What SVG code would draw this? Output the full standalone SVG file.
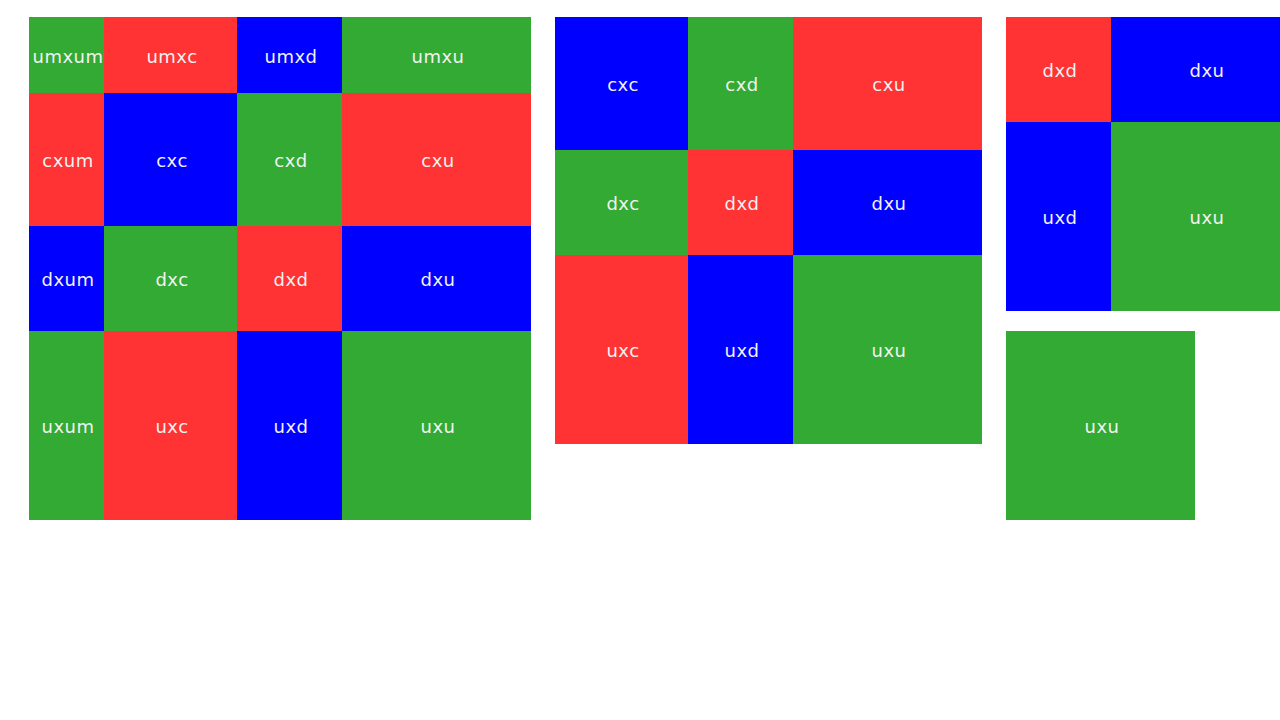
<svg xmlns="http://www.w3.org/2000/svg" width="1280" height="720" viewBox="0 0 1280 720">
<style>
.g{fill:#33AA33}.r{fill:#FF3333}.b{fill:#0000FF}
text{font-family:"DejaVu Sans",sans-serif;font-size:18px;fill:#F2F2F2;text-anchor:middle;letter-spacing:0.5px}
</style>
<rect width="1280" height="720" fill="#fff"/>
<g id="grid1">
<g id="umxum"><rect class="g" x="29" y="17" width="75" height="76"/><text x="68" y="62.5">umxum</text></g>
<g id="umxc"><rect class="r" x="104" y="17" width="133" height="76"/><text x="172" y="62.5">umxc</text></g>
<g id="umxd"><rect class="b" x="237" y="17" width="105" height="76"/><text x="291" y="62.5">umxd</text></g>
<g id="umxu"><rect class="g" x="342" y="17" width="189" height="76"/><text x="438" y="62.5">umxu</text></g>
<g id="cxum"><rect class="r" x="29" y="93" width="75" height="133"/><text x="68" y="167">cxum</text></g>
<g id="cxc"><rect class="b" x="104" y="93" width="133" height="133"/><text x="172" y="167">cxc</text></g>
<g id="cxd"><rect class="g" x="237" y="93" width="105" height="133"/><text x="291" y="167">cxd</text></g>
<g id="cxu"><rect class="r" x="342" y="93" width="189" height="133"/><text x="438" y="167">cxu</text></g>
<g id="dxum"><rect class="b" x="29" y="226" width="75" height="105"/><text x="68" y="286">dxum</text></g>
<g id="dxc"><rect class="g" x="104" y="226" width="133" height="105"/><text x="172" y="286">dxc</text></g>
<g id="dxd"><rect class="r" x="237" y="226" width="105" height="105"/><text x="291" y="286">dxd</text></g>
<g id="dxu"><rect class="b" x="342" y="226" width="189" height="105"/><text x="438" y="286">dxu</text></g>
<g id="uxum"><rect class="g" x="29" y="331" width="75" height="189"/><text x="68" y="433">uxum</text></g>
<g id="uxc"><rect class="r" x="104" y="331" width="133" height="189"/><text x="172" y="433">uxc</text></g>
<g id="uxd"><rect class="b" x="237" y="331" width="105" height="189"/><text x="291" y="433">uxd</text></g>
<g id="uxu"><rect class="g" x="342" y="331" width="189" height="189"/><text x="438" y="433">uxu</text></g>
</g>
<g id="grid2">
<g id="g2-cxc"><rect class="b" x="555" y="17" width="133" height="133"/><text x="623" y="91">cxc</text></g>
<g id="g2-cxd"><rect class="g" x="688" y="17" width="105" height="133"/><text x="742" y="91">cxd</text></g>
<g id="g2-cxu"><rect class="r" x="793" y="17" width="189" height="133"/><text x="889" y="91">cxu</text></g>
<g id="g2-dxc"><rect class="g" x="555" y="150" width="133" height="105"/><text x="623" y="210">dxc</text></g>
<g id="g2-dxd"><rect class="r" x="688" y="150" width="105" height="105"/><text x="742" y="210">dxd</text></g>
<g id="g2-dxu"><rect class="b" x="793" y="150" width="189" height="105"/><text x="889" y="210">dxu</text></g>
<g id="g2-uxc"><rect class="r" x="555" y="255" width="133" height="189"/><text x="623" y="357">uxc</text></g>
<g id="g2-uxd"><rect class="b" x="688" y="255" width="105" height="189"/><text x="742" y="357">uxd</text></g>
<g id="g2-uxu"><rect class="g" x="793" y="255" width="189" height="189"/><text x="889" y="357">uxu</text></g>
</g>
<g id="grid3">
<g id="g3-dxd"><rect class="r" x="1006" y="17" width="105" height="105"/><text x="1060" y="77">dxd</text></g>
<g id="g3-dxu"><rect class="b" x="1111" y="17" width="189" height="105"/><text x="1207" y="77">dxu</text></g>
<g id="g3-uxd"><rect class="b" x="1006" y="122" width="105" height="189"/><text x="1060" y="224">uxd</text></g>
<g id="g3-uxu"><rect class="g" x="1111" y="122" width="189" height="189"/><text x="1207" y="224">uxu</text></g>
</g>
<g id="grid4">
<g id="g4-uxu"><rect class="g" x="1006" y="331" width="189" height="189"/><text x="1102" y="433">uxu</text></g>
</g>
<g id="connectors"/>
</svg>
